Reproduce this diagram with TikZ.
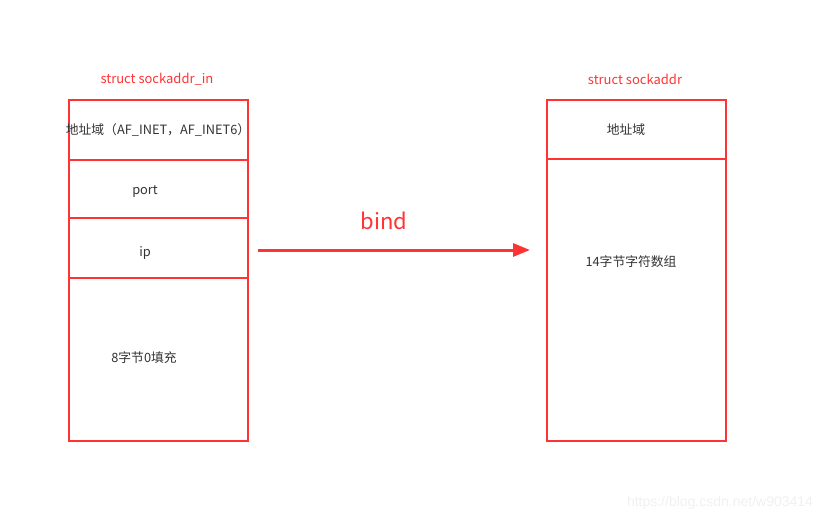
\documentclass[tikz,border=0pt]{standalone}
\usepackage{fontspec}
\setmainfont{Noto Sans CJK SC}
\newfontfamily\markfont{Liberation Sans}
\usetikzlibrary{arrows.meta,positioning}
\definecolor{boxred}{HTML}{FF3333}
\definecolor{txtgray}{HTML}{333333}
\begin{document}
\begin{tikzpicture}[
    x=1pt, y=-1pt,
    cell/.style={draw=boxred,line width=2pt,minimum width=179pt,inner sep=0pt,anchor=north west},
    title/.style={text=boxred,font=\fontsize{13}{15}\selectfont},
    txt/.style={text=txtgray,font=\fontsize{12.8}{15}\selectfont,inner sep=0pt,text height=12pt,text depth=1pt},
    arr/.style={-{Triangle[length=17pt,width=13pt]},draw=boxred,line width=3pt}
]
\useasboundingbox (0,0) rectangle (834,521);
% left structure
\node[title] (ltitle) at (157,79) {struct sockaddr\_in};
\node[cell,minimum height=60pt] (lfam) at (68,99) {};
\node[cell,minimum height=58pt] (lport) at (68,159) {};
\node[cell,minimum height=60pt] (lip) at (68,217) {};
\node[cell,minimum height=163pt] (lpad) at (68,277) {};
\node[txt] (tfam) at (158,129) {地址域（AF\_INET，AF\_INET6）};
\node[txt] (tport) at (145,189) {port};
\node[txt] (tip) at (145,251) {ip};
\node[txt] (tpad) at (144,357) {8字节0填充};
% right structure
\node[title] (rtitle) at (635,79) {struct sockaddr};
\node[cell,minimum height=59pt] (rfam) at (546,99) {};
\node[cell,minimum height=282pt] (rdata) at (546,158) {};
\node[txt] (trfam) at (626,129) {地址域};
\node[txt] (trdata) at (631,261) {14字节字符数组};
% bind arrow
\coordinate (afrom) at (258,250);
\coordinate (ato) at (530,250);
\draw[arr] (afrom) -- (ato);
\node[text=boxred,font=\fontsize{22}{26}\selectfont] (bind) at (384,221) {bind};
% watermark
\node[text=black!6,font=\markfont\fontsize{14}{16}\selectfont] (mark) at (720,503) {https://blog.csdn.net/w903414};
\end{tikzpicture}
\end{document}
